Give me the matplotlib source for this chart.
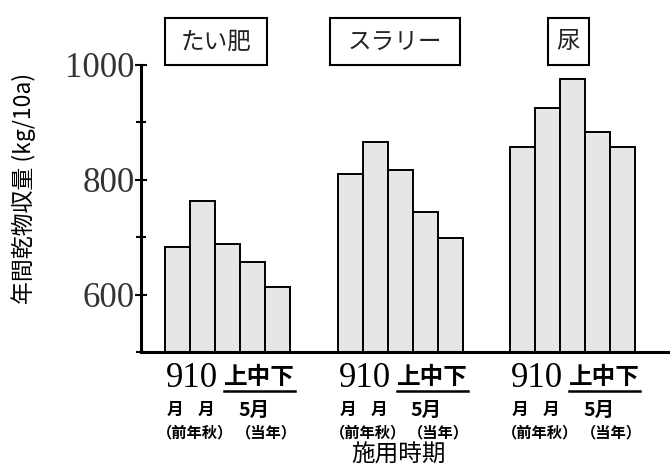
import matplotlib.pyplot as plt
import matplotlib.patches as patches
from matplotlib.ticker import MultipleLocator

groups = ['たい肥', 'スラリー', '尿']
timings = ['9', '10', '上', '中', '下']
yields = [
    [683, 763, 689, 657, 614],   # たい肥
    [810, 866, 817, 744, 699],   # スラリー
    [857, 925, 976, 883, 857],   # 尿
]
y_ticks = [600, 800, 1000]

W, H = 670, 469
fig = plt.figure(figsize=(W / 100, H / 100), dpi=100)
ax = fig.add_axes([141 / W, 1 - 352 / H, 1 - 141 / W, (352 - 65) / H])

jp = ['Noto Sans CJK JP', 'DejaVu Sans']
serif = 'Liberation Serif'

def fx(px):
    return px / W

def fy(py):
    return 1 - py / H

gap = 6.9
start = 1.46
for g, vals in enumerate(yields):
    xs = [start + g * gap + i for i in range(len(vals))]
    ax.bar(xs, [v - 500 for v in vals], bottom=500, width=1.0,
           color='#e6e6e6', edgecolor='black', linewidth=1.4)

ax.set_xlim(0, 21.16)
ax.set_ylim(500, 1000)
ax.set_yticks(y_ticks)
ax.yaxis.set_minor_locator(MultipleLocator(100))
ax.set_yticklabels([str(t) for t in y_ticks], fontfamily=serif, fontsize=25, color='#333333')
ax.tick_params(axis='y', which='major', direction='inout', length=9, width=1.5, pad=0)
ax.tick_params(axis='y', which='minor', direction='inout', length=7, width=1.5)
ax.set_xticks([])
for s in ['top', 'right']:
    ax.spines[s].set_visible(False)
for s in ['left', 'bottom']:
    ax.spines[s].set_linewidth(2.2)

# group name boxes
boxes = [(165, 267), (330, 460), (548, 589)]
for name, (x0, x1) in zip(groups, boxes):
    rect = patches.Rectangle((fx(x0), fy(65)), fx(x1 - x0), (65 - 18) / H,
                             transform=fig.transFigure, fill=False,
                             edgecolor='black', linewidth=1.5, clip_on=False)
    fig.add_artist(rect)
    fig.text(fx((x0 + x1) / 2), fy(42), name, family=jp, fontsize=17,
             ha='center', va='center', color='#222222')

# timing labels under each group (positions in px of the first group)
tr = ax.get_xaxis_transform()
for g in range(len(groups)):
    def dx(px):
        return (px - 141) / 25 + g * gap
    ax.text(dx(166), -0.094, '910', transform=tr, family=serif, fontsize=25,
            ha='left', va='center')
    ax.text(dx(224), -0.088, '上中下', transform=tr, family=jp, fontsize=17,
            fontweight='bold', ha='left', va='center')
    ax.plot([dx(224), dx(295)], [-0.136, -0.136], transform=tr,
            color='black', lw=1.8, clip_on=False)
    ax.text(dx(175), -0.202, '月', transform=tr, family=jp, fontsize=12,
            fontweight='bold', ha='center', va='center')
    ax.text(dx(206), -0.202, '月', transform=tr, family=jp, fontsize=12,
            fontweight='bold', ha='center', va='center')
    ax.text(dx(254), -0.202, '5月', transform=tr, family=jp, fontsize=14,
            fontweight='bold', ha='center', va='center')
    ax.text(dx(195), -0.279, '（前年秋）', transform=tr, family=jp, fontsize=11,
            fontweight='bold', ha='center', va='center')
    ax.text(dx(266), -0.279, '（当年）', transform=tr, family=jp, fontsize=11,
            fontweight='bold', ha='center', va='center')

fig.text(fx(398), fy(455), '施用時期', family=jp, fontsize=17,
         ha='center', va='center')
fig.text(fx(24), fy(188), '年間乾物収量 (kg/10a)', family=jp, fontsize=16.5,
         rotation=90, ha='center', va='center')

fig.savefig('out.png', dpi=100)
